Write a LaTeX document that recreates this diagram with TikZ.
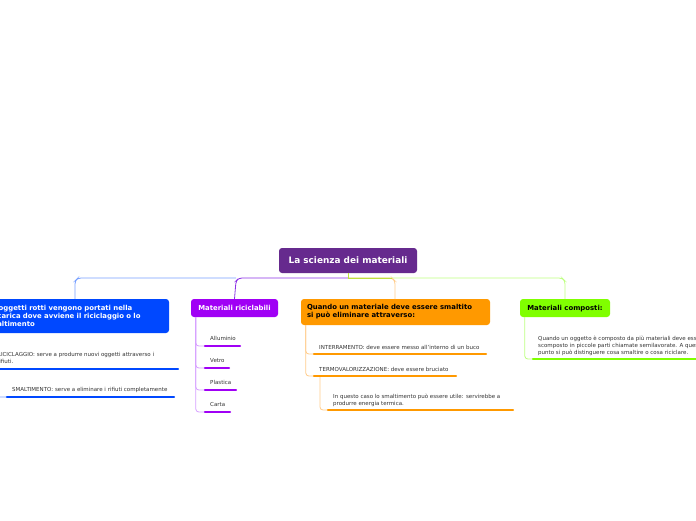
\documentclass[tikz,border=0pt]{standalone}
\usepackage{fontspec}
\setmainfont{DejaVu Sans}
\definecolor{rootc}{RGB}{102,42,142}
\definecolor{bluec}{RGB}{0,72,255}
\definecolor{bluel}{RGB}{120,160,255}
\definecolor{purc}{RGB}{160,0,245}
\definecolor{purm}{RGB}{140,50,230}
\definecolor{purl}{RGB}{215,160,255}
\definecolor{orac}{RGB}{255,153,0}
\definecolor{oral}{RGB}{255,205,140}
\definecolor{grec}{RGB}{128,255,0}
\definecolor{grel}{RGB}{190,255,130}
\definecolor{yelg}{RGB}{190,225,60}
\tikzset{
  box/.style={rectangle, rounded corners=3pt, inner sep=0pt, font=\bfseries\fontsize{6.9}{8}\selectfont},
  onebox/.style={box, text depth=0pt},
  leaf/.style={anchor=north west, inner sep=0pt, align=left, text=black!80, font=\fontsize{5.5}{7}\selectfont},
  uline/.style={line width=2.4pt, line cap=round},
  conn/.style={line width=0.8pt, rounded corners=3pt},
}
\begin{document}
\begin{tikzpicture}[x=1pt,y=-1pt]
\useasboundingbox (0,0) rectangle (696,520);
\fill[white] (0,0) rectangle (696,520);

% root
\node[onebox, fill=rootc, text=white, minimum width=138pt, minimum height=25pt, font=\bfseries\fontsize{8.9}{10}\selectfont] (root) at (348,260.5) {La scienza dei materiali};
\coordinate (rb) at (348,278);

% main branches
\node[box, fill=bluec, text=white, minimum width=188pt, minimum height=34pt, text width=178pt, align=left] (bl) at (75,316) {Gli oggetti rotti vengono portati nella\\discarica dove avviene il riciclaggio o lo\\smaltimento};
\node[onebox, fill=purc, text=white, minimum width=87pt, minimum height=18pt] (pr) at (234.5,308) {Materiali riciclabili};
\node[box, fill=orac, text=black, minimum width=189pt, minimum height=26pt, text width=177pt, align=left] (or) at (395.5,312) {Quando un materiale deve essere smaltito\\si può eliminare attraverso:};
\node[onebox, fill=grec, text=black, minimum width=90pt, minimum height=18pt] (gr) at (565,308) {Materiali composti:};

% connectors root -> branches
\draw[conn, bluel] (236,278) -- (78,278) -- (75,281) -- (bl.north);
\draw[conn, purm] (348,278) -- (239,278) -- (236,281) -- (pr.north);
\draw[conn, grel] (348,278) -- (562,278) -- (565,281) -- (gr.north);
\draw[conn, oral] (348,278) -- (392,278) -- (395,281) -- (395,299);
\draw[line width=0.8pt, yelg] (root.south) -- (rb) -- (392,278);

% blue leaves
\node[leaf] (ric) at (-3,352.5) {RICICLAGGIO: serve a produrre nuovi oggetti attraverso i\\rifiuti.};
\node[leaf] (sma) at (12,387.5) {SMALTIMENTO: serve a eliminare i rifiuti completamente};
\coordinate (ricS) at (-8,369); \coordinate (ricE) at (178,369);
\coordinate (smaS) at (7,397); \coordinate (smaE) at (174,397);
\draw[conn, bluel] (-14,333) |- (ricS);
\draw[conn, bluel] (-14,333) |- (smaS);
\draw[uline, bluec] (ricS) -- (ricE);
\draw[uline, bluec] (smaS) -- (smaE);

% purple leaves
\node[leaf] (all) at (210,336.5) {Alluminio};
\node[leaf] (vet) at (210,358.5) {Vetro};
\node[leaf] (pla) at (210,380.5) {Plastica};
\node[leaf] (car) at (210,402.5) {Carta};
\coordinate (allS) at (205,346); \coordinate (allE) at (240,346);
\coordinate (vetS) at (205,368); \coordinate (vetE) at (229,368);
\coordinate (plaS) at (205,390); \coordinate (plaE) at (236,390);
\coordinate (carS) at (205,412); \coordinate (carE) at (230,412);
\foreach \n in {all,vet,pla,car}{
  \draw[conn, purl] ([xshift=5pt]pr.south west) |- (\n S);
}
\foreach \n in {all,vet,pla,car}{
  \draw[uline, purc] (\n S) -- (\n E);
}

% orange leaves
\node[leaf] (int) at (319,345.5) {INTERRAMENTO: deve essere messo all'interno di un buco};
\node[leaf] (ter) at (319,367.5) {TERMOVALORIZZAZIONE: deve essere bruciato};
\node[leaf] (inq) at (333,394) {In questo caso lo smaltimento può essere utile: servirebbe a\\produrre energia termica.};
\coordinate (intS) at (314,354); \coordinate (intE) at (486,354);
\coordinate (terS) at (314,376); \coordinate (terE) at (456,376);
\coordinate (inqS) at (328,410); \coordinate (inqE) at (513,410);
\draw[conn, oral] ([xshift=5pt]or.south west) |- (intS);
\draw[conn, oral] ([xshift=5pt]or.south west) |- (terS);
\draw[conn, oral] (320,376) |- (inqS);
\draw[uline, orac] (intS) -- (intE);
\draw[uline, orac] (terS) -- (terE);
\draw[uline, orac] (inqS) -- (inqE);

% green leaf
\node[leaf] (com) at (538,336) {Quando un oggetto è composto da più materiali deve essere\\scomposto in piccole parti chiamate semilavorate. A questo\\punto si può distinguere cosa smaltire o cosa riciclare.};
\coordinate (comS) at (533,359); \coordinate (comE) at (702,359);
\draw[conn, grel] ([xshift=5pt]gr.south west) |- (comS);
\draw[uline, grec] (comS) -- (comE);
\end{tikzpicture}
\end{document}
